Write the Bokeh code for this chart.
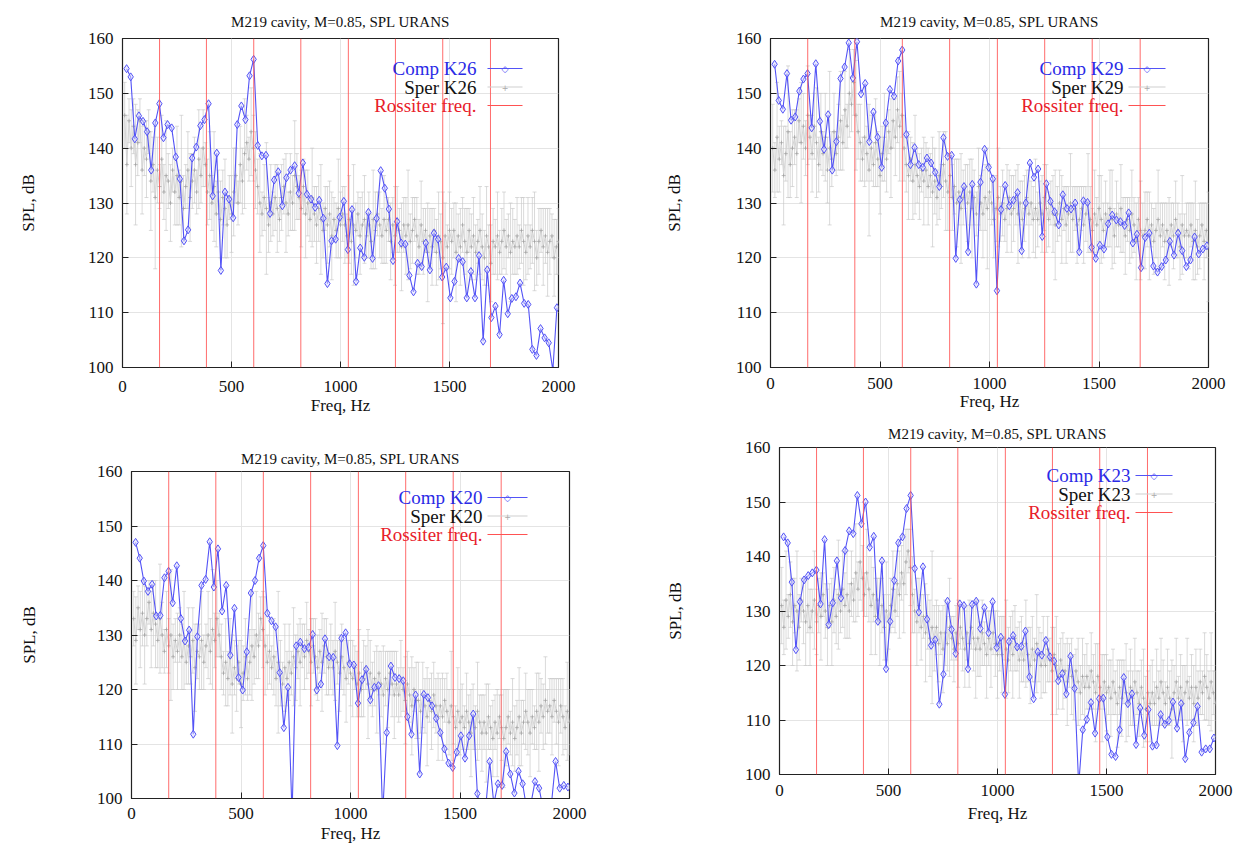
import numpy as np
from bokeh.plotting import figure
from bokeh.models import Range1d, Span, Label, BoxAnnotation, FixedTicker, Spacer
from bokeh.layouts import row, column
from bokeh.embed import file_html
from bokeh.resources import INLINE

FONT = "'Liberation Serif'"
TITLE = "M219 cavity, M=0.85, SPL URANS"
X_LABEL = "Freq, Hz"
Y_LABEL = "SPL, dB"
X_TICKS = [0, 500, 1000, 1500, 2000]
Y_TICKS = [100, 110, 120, 130, 140, 150, 160]
ROSSITER_HZ = [170, 385, 602, 818, 1036, 1252, 1469, 1688]
COMP_STEP_HZ = 18.8
SPER_STEP_HZ = 10.0

# ---------------- Comp (computed) spectra ----------------
comp_k26 = [154.5,153.0,141.7,145.9,144.9,143.0,136.0,144.6,148.1,141.9,
            144.3,143.7,138.4,134.4,123.1,125.1,138.2,140.2,144.1,145.2,
            148.1,131.3,139.1,117.7,132.0,130.7,127.3,144.3,147.7,145.2,
            153.2,156.2,140.5,138.6,138.7,128.1,134.2,135.7,129.5,134.6,
            136.0,136.8,131.8,137.3,131.6,130.7,129.2,130.5,127.2,115.3,
            123.1,123.4,127.4,130.3,121.5,128.8,115.7,121.8,120.1,128.3,
            119.9,127.2,135.9,132.7,128.9,119.5,126.6,122.7,122.5,116.8,
            113.8,119.0,118.4,122.7,117.8,124.5,123.4,116.5,118.3,112.7,
            115.7,119.9,119.3,112.7,117.5,112.7,120.4,104.8,117.8,109.1,
            111.2,106.0,115.9,109.8,112.6,112.9,115.4,111.7,111.5,103.3,
            102.2,107.1,105.4,104.5,99.5,110.9]

comp_k29 = [155.3,148.7,147.1,153.6,145.1,145.7,150.4,152.6,153.6,143.7,
            155.4,144.9,139.8,146.1,136.0,141.2,152.7,154.8,159.2,152.8,
            159.4,149.9,151.8,141.2,146.6,142.0,136.5,144.6,150.7,149.5,
            155.9,157.9,142.5,137.0,140.1,137.0,136.5,138.2,137.3,135.6,
            133.0,141.9,138.5,138.7,119.9,130.6,133.0,121.1,133.4,115.2,
            133.8,139.8,136.5,134.4,114.0,128.8,133.2,129.5,130.5,131.9,
            121.3,130.0,137.3,134.7,136.2,123.9,133.5,130.3,128.4,126.0,
            131.5,129.0,128.9,130.0,121.1,130.4,130.1,121.9,119.9,122.3,
            121.6,126.2,127.8,126.9,126.6,125.9,128.2,122.7,124.3,118.2,
            123.7,124.5,118.5,117.4,118.4,119.6,123.0,120.5,124.5,121.3,
            118.4,119.6,123.8,120.7,121.6,122.2]

comp_k20 = [147.0,144.1,139.9,138.0,139.3,133.5,133.6,140.5,141.7,135.9,
            142.7,133.0,128.9,130.9,111.8,129.7,139.1,140.2,147.1,138.8,
            145.8,134.4,139.1,126.3,134.9,122.2,119.9,126.9,137.7,140.0,
            144.1,146.4,134.0,132.6,131.5,123.1,113.0,120.4,97.0,128.0,
            128.7,127.5,127.7,130.1,119.9,121.0,129.3,126.0,125.9,109.7,
            129.4,130.4,124.7,124.5,117.5,121.8,123.7,118.1,120.4,120.7,
            97.0,112.1,124.3,122.2,122.0,121.6,115.0,111.8,119.0,104.5,
            119.1,118.5,117.0,114.7,112.1,109.1,106.5,105.7,108.5,111.5,
            107.4,111.5,115.5,100.9,97.0,98.0,106.8,99.0,102.7,102.4,
            108.6,104.5,101.0,105.0,102.7,98.0,99.0,103.1,101.9,98.0,
            97.0,99.0,106.8,101.9,102.4,102.1]

comp_k23 = [143.6,142.5,135.3,122.9,131.7,135.7,136.5,137.0,137.5,131.3,
            143.1,127.5,131.5,139.2,132.4,141.1,144.7,144.2,151.2,146.0,
            150.0,141.7,143.7,128.1,139.2,119.4,128.1,135.6,142.5,143.6,
            148.8,151.2,137.8,129.8,138.1,128.5,123.7,124.7,112.9,118.4,
            131.8,126.6,122.2,131.3,131.0,119.4,131.2,131.8,126.8,130.6,
            126.0,131.7,123.3,125.2,114.7,124.4,125.5,123.4,123.5,126.3,
            117.9,113.9,122.5,121.9,124.6,121.6,120.8,117.2,118.5,114.8,
            121.7,115.8,98.0,108.2,110.1,113.2,107.6,113.9,114.0,106.9,
            103.7,103.3,108.2,117.8,113.0,114.8,105.5,112.2,107.2,111.9,
            105.2,105.4,111.0,109.2,109.9,113.3,108.5,113.0,102.9,107.7,
            109.5,112.5,104.1,104.7,104.7,106.7]

# ---------------- Sper (experiment) spectra and error half-widths ----------------
sper_k26 = [146,137,145,140,144,137,141,145,136,140,
            138,143,134,137,131,136,133,138,132,135,
            134,130,136,132,135,131,134,129,133,136,
            131,134,136,132,138,135,140,137,132,135,
            130,133,128,132,127,131,129,126,131,128,
            132,135,130,137,134,139,141,138,143,140,
            136,133,130,128,131,129,126,130,128,131,
            129,127,131,133,130,128,132,130,135,133,
            131,129,133,128,130,127,131,128,126,129,
            127,125,129,126,128,124,127,125,129,126,
            128,126,124,127,123,126,125,128,124,126,
            127,124,126,123,127,125,128,126,124,127,
            125,127,123,126,124,127,125,122,126,124,
            126,123,125,127,124,122,126,123,125,121,
            124,122,125,121,124,123,120,124,122,125,
            123,125,121,124,122,126,123,121,125,122,
            124,121,123,125,122,120,124,122,119,123,
            122,124,121,123,125,122,124,121,123,122,
            124,122,125,123,121,124,122,125,123,120,
            123,125,122,124,121,123,124,120,122,123]
err_k26 = [6,9,4,7,5,11,6,4,8,5, 7,4,9,5,13,6,4,8,5,10, 5,7,4,6,9,5,12,6,4,7,
           8,5,6,4,9,5,7,4,6,8, 5,10,6,4,7,5,9,6,4,7, 8,5,4,7,6,10,5,4,8,6,
           7,5,9,4,6,12,5,7,4,6, 8,4,6,5,9,4,7,5,10,6, 4,7,5,8,6,4,9,5,7,6,
           10,5,4,7,6,8,4,5,9,6, 5,7,4,8,6,11,5,4,7,6, 8,4,6,5,9,7,4,6,5,8,
           6,4,7,5,9,6,4,8,5,7, 10,5,6,4,7,5,8,6,4,9, 5,7,4,6,8,5,12,6,4,7,
           6,5,9,4,7,5,6,8,4,6, 7,5,4,8,6,5,9,4,7,6, 5,8,4,6,7,5,4,9,6,5,
           7,4,6,8,5,7,4,6,9,5, 6,4,7,5,8,6,4,7,5,6]

sper_k29 = [140,136,142,138,141,135,139,143,137,140,
            142,139,145,141,144,140,146,142,139,144,
            141,137,143,139,142,136,140,138,143,139,
            142,145,141,147,144,150,148,152,146,143,
            141,138,142,139,136,140,137,141,138,135,
            139,142,138,143,140,145,142,147,144,146,
            140,137,135,138,134,137,135,133,136,134,
            136,133,135,132,134,131,135,133,137,134,
            132,135,131,133,130,132,129,131,133,130,
            132,129,131,128,133,130,128,131,129,132,
            130,127,129,131,128,130,127,129,131,128,
            129,131,128,130,127,129,131,128,130,127,
            129,127,130,128,131,129,127,130,128,126,
            128,130,127,129,126,128,130,127,129,126,
            127,129,126,128,130,127,125,128,126,129,
            127,125,128,126,129,127,124,128,126,129,
            126,124,127,125,128,126,123,127,125,124,
            125,127,124,126,123,125,127,124,126,123,
            125,123,126,124,127,125,122,126,124,125,
            124,126,123,125,122,124,126,123,125,122]
err_k29 = [8,5,10,6,4,9,5,12,6,7, 5,8,4,11,6,5,9,4,7,6, 10,5,7,4,8,6,14,5,7,4,
           6,9,5,7,4,8,5,6,10,5, 7,4,9,5,12,6,4,8,5,7, 5,8,6,4,9,5,7,6,10,4,
           6,5,8,4,7,9,5,6,4,8, 5,7,4,10,6,5,8,4,6,9, 7,4,6,5,8,6,10,5,4,7,
           6,9,5,4,7,5,8,6,11,5, 4,7,6,9,5,6,4,8,5,7, 6,5,9,4,7,6,5,8,4,6,
           9,5,4,7,6,8,5,4,7,10, 5,6,8,4,7,5,9,6,4,7, 6,4,7,5,9,6,4,8,5,6,
           8,5,6,4,7,9,5,6,4,8, 5,7,4,6,8,5,7,4,9,6, 7,5,8,4,6,5,9,6,4,7,
           5,8,4,6,7,5,6,9,4,5, 6,4,7,9,5,6,4,7,5,10]

sper_k20 = [133,129,135,131,134,130,133,136,131,134,
            132,129,133,130,127,131,128,130,126,129,
            127,130,126,129,125,128,126,129,124,127,
            126,129,125,128,130,127,131,129,133,130,
            126,123,125,122,126,121,124,122,125,121,
            123,126,122,125,128,126,130,128,133,131,
            128,125,127,124,126,122,125,123,121,124,
            122,125,123,126,124,127,125,128,126,129,
            127,125,128,126,124,127,125,128,126,124,
            126,124,127,125,123,126,124,122,125,123,
            122,124,121,123,120,122,124,121,123,120,
            122,120,123,121,119,122,120,123,121,119,
            121,119,122,120,118,121,119,117,120,118,
            118,116,119,117,115,118,116,119,117,115,
            117,115,118,116,114,117,115,113,116,114,
            115,113,116,114,112,115,113,116,114,112,
            114,112,115,113,111,114,112,115,113,111,
            113,115,112,114,111,113,115,112,114,116,
            114,112,115,113,116,114,117,115,118,116,
            117,115,118,116,114,117,115,113,116,114]
err_k20 = [5,8,4,7,6,9,5,4,7,6, 8,5,10,6,4,7,5,12,6,4, 7,5,6,9,4,7,5,6,8,5,
           6,9,5,4,8,6,11,5,7,4, 6,4,8,5,7,9,5,6,4,8, 5,7,4,6,10,5,8,6,4,7,
           9,5,6,4,7,5,13,6,4,8, 5,7,4,9,6,5,8,4,6,7, 4,8,5,7,6,4,9,5,7,5,
           6,5,9,4,7,6,5,8,4,6, 7,4,6,8,5,7,4,10,6,5, 5,8,4,6,9,5,7,4,6,8,
           6,5,7,4,8,6,5,9,4,7, 7,4,6,5,9,4,7,6,5,8, 5,8,4,7,6,10,5,4,8,6,
           6,4,7,5,8,6,4,9,5,7, 5,9,6,4,7,5,8,4,6,9, 7,5,4,8,6,5,9,6,4,7,
           6,8,5,4,7,9,5,6,8,4, 5,7,4,6,8,5,7,4,9,6]

sper_k23 = [131,127,132,129,133,128,131,130,127,132,
            130,128,131,127,130,132,128,131,129,133,
            130,127,131,128,132,129,133,130,134,131,
            133,130,135,132,137,134,139,136,133,137,
            134,131,133,129,132,128,131,127,130,128,
            131,134,130,135,133,137,135,139,141,138,
            133,130,128,131,127,129,126,128,125,127,
            125,127,124,126,123,126,124,127,125,123,
            126,124,127,125,123,126,124,127,125,123,
            125,123,126,124,122,125,123,126,124,122,
            124,122,125,123,121,124,122,125,123,121,
            123,121,124,122,120,123,121,124,122,120,
            122,120,123,121,119,122,120,118,121,119,
            119,117,120,118,116,119,117,115,118,116,
            118,116,119,117,115,118,116,114,117,115,
            116,114,117,115,113,116,114,117,115,113,
            116,114,117,115,113,116,114,112,115,113,
            115,113,116,114,117,115,113,116,114,112,
            115,117,114,116,113,115,117,114,116,113,
            116,114,117,115,118,116,114,117,115,113]
err_k23 = [7,5,9,4,6,8,5,11,6,4, 6,8,5,7,4,9,6,5,8,4, 5,7,4,8,6,5,10,4,7,6,
           8,5,6,4,9,5,7,6,4,8, 6,9,5,7,4,8,5,6,9,5, 5,7,4,6,8,5,9,6,4,7,
           7,4,8,5,6,4,9,5,7,14, 6,5,7,4,8,6,5,9,4,6, 5,8,4,6,7,5,8,4,6,9,
           7,5,6,4,8,5,7,4,6,8, 5,7,4,9,6,5,8,6,4,7, 6,4,8,5,7,6,4,9,5,6,
           7,5,6,4,8,5,9,6,4,7, 5,8,4,7,6,4,8,5,7,6, 6,4,7,5,9,6,4,8,5,7,
           5,7,6,4,8,5,7,4,9,6, 7,5,8,4,6,5,9,6,4,7, 6,4,7,5,8,6,4,7,5,9,
           5,8,4,6,7,5,8,4,6,7, 7,5,6,4,8,6,5,9,4,6]

BLUE = "#5353f6"
GRAY = "#c6c6c6"
RED = "#ff5252"


def make_panel(probe, comp, sper, err, g):
    f_comp = COMP_STEP_HZ * np.arange(1, len(comp) + 1)
    f_sper = SPER_STEP_HZ * np.arange(1, len(sper) + 1)
    sper_a = np.array(sper, dtype=float)
    err_a = np.array(err, dtype=float)
    lo = sper_a - err_a
    hi = sper_a + err_a

    p = figure(width=g["w"], height=g["h"], x_range=Range1d(0, 2000), y_range=Range1d(100, 160),
               output_backend="svg", toolbar_location=None, title=TITLE,
               min_border_left=g["l"], min_border_right=g["r"],
               min_border_top=g["t"], min_border_bottom=g["b"])
    p.background_fill_color = "white"
    p.border_fill_color = "white"
    p.outline_line_color = "#222222"
    p.outline_line_width = 1.2

    p.title.align = "center"
    p.title.text_font = FONT
    p.title.text_font_size = "15px"
    p.title.text_font_style = "normal"
    p.title.text_color = "#111111"
    p.title.standoff = g["ts"]

    p.xaxis.ticker = FixedTicker(ticks=X_TICKS)
    p.yaxis.ticker = FixedTicker(ticks=Y_TICKS)
    p.xaxis.axis_label = X_LABEL
    p.yaxis.axis_label = Y_LABEL
    for ax in (p.xaxis[0], p.yaxis[0]):
        ax.major_label_text_font = FONT
        ax.major_label_text_font_size = "17px"
        ax.major_label_text_color = "#111111"
        ax.axis_label_text_font = FONT
        ax.axis_label_text_font_size = "17px"
        ax.axis_label_text_font_style = "normal"
        ax.axis_label_text_color = "#111111"
        ax.major_tick_in = 6
        ax.major_tick_out = 0
        ax.minor_tick_line_color = None
        ax.axis_line_color = "#222222"
        ax.major_tick_line_color = "#222222"
    p.xaxis.major_label_standoff = g["xls"]
    p.xaxis.axis_label_standoff = g["xas"]
    p.yaxis.major_label_standoff = 9
    p.yaxis.axis_label_standoff = g["yas"]

    p.xgrid.grid_line_color = "#e4e4e4"
    p.ygrid.grid_line_color = "#e4e4e4"

    # Sper: error bars, connecting line, point markers
    p.segment(x0=f_sper, y0=lo, x1=f_sper, y1=hi, line_color=GRAY, line_width=1, line_alpha=0.65)
    p.scatter(x=np.concatenate([f_sper, f_sper]), y=np.concatenate([lo, hi]), marker="dash",
              size=4, line_color=GRAY, line_alpha=0.65)
    p.line(x=f_sper, y=sper_a, line_color="#d4d4d4", line_width=1)
    p.scatter(x=f_sper, y=sper_a, marker="cross", size=4, line_color="#9a9a9a", line_alpha=0.65)

    # Comp: line + open diamonds
    p.line(x=f_comp, y=comp, line_color=BLUE, line_width=1.1)
    p.scatter(x=f_comp, y=comp, marker="diamond", size=8, line_color=BLUE, line_width=1,
              fill_color="#dcdcff", fill_alpha=0.5)

    # Rossiter frequencies
    for fr in ROSSITER_HZ:
        p.add_layout(Span(location=fr, dimension="height", line_color=RED, line_width=1, line_alpha=0.85))

    # Legend (gnuplot style: text right-aligned, sample on the right)
    fw = g["w"] - g["l"] - g["r"]
    fh = g["h"] - g["t"] - g["b"]
    entries = [("Comp " + probe, "#2a2ae6", BLUE), ("Sper " + probe, "#111111", "#cfcfcf"),
               ("Rossiter freq.", "#e8202a", RED)]
    for i, (txt, tcol, lcol) in enumerate(entries):
        y = fh - g["ly"] - i * 18.5
        p.add_layout(Label(x=fw - g["lx"], y=y, x_units="screen", y_units="screen", text=txt,
                           text_align="right", text_baseline="middle", text_font=FONT,
                           text_font_size="19px", text_color=tcol))
        p.add_layout(BoxAnnotation(left=fw - g["s0"], right=fw - g["s1"], top=y + 0.6, bottom=y - 0.6,
                                   left_units="screen", right_units="screen", top_units="screen",
                                   bottom_units="screen", fill_color=lcol, fill_alpha=1, line_color=None))
        if i == 0:
            p.add_layout(Label(x=fw - (g["s0"] + g["s1"]) / 2, y=y, x_units="screen", y_units="screen",
                               text="\u25c7", text_align="center", text_baseline="middle",
                               text_font="DejaVu Sans", text_font_size="9px", text_color=BLUE))
        if i == 1:
            p.add_layout(Label(x=fw - (g["s0"] + g["s1"]) / 2, y=y, x_units="screen", y_units="screen",
                               text="+", text_align="center", text_baseline="middle",
                               text_font="DejaVu Sans", text_font_size="8px", text_color="#aaaaaa"))
    return p


G1 = dict(w=620, h=425, l=122, r=62, t=38, b=58, ts=17, xls=13, xas=1, yas=47, lx=82, s0=71, s1=36, ly=30)
G3 = dict(w=611, h=423, l=122, r=51, t=46, b=50, ts=9, xls=9, xas=2, yas=55, lx=87, s0=82, s1=42, ly=26)
G2 = dict(w=622, h=416, l=150, r=34, t=38, b=49, ts=17, xls=10, xas=0, yas=49, lx=85, s0=80, s1=43, ly=30)
G4 = dict(w=613, h=432, l=150, r=27, t=31, b=74, ts=12, xls=10, xas=5, yas=57, lx=85, s0=80, s1=43, ly=28)

p1 = make_panel("K26", comp_k26, sper_k26, err_k26, G1)
p3 = make_panel("K20", comp_k20, sper_k20, err_k20, G3)
p2 = make_panel("K29", comp_k29, sper_k29, err_k29, G2)
p4 = make_panel("K23", comp_k23, sper_k23, err_k23, G4)

left_col = column(row(p1, spacing=0), row(Spacer(width=9, height=423), p3, spacing=0), spacing=0)
right_col = column(row(p2, spacing=0), row(Spacer(width=9, height=432), p4, spacing=0), spacing=0)
layout = row(left_col, right_col, spacing=0)
open("out.html", "w").write(file_html(layout, INLINE))
